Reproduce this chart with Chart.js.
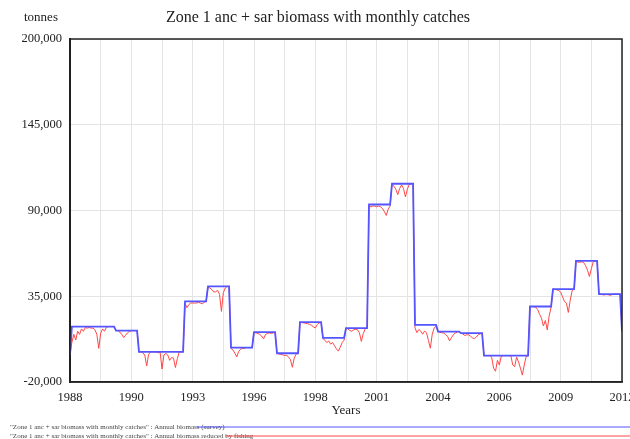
<!DOCTYPE html>
<html>
<head>
<meta charset="utf-8">
<script src="https://cdn.jsdelivr.net/npm/chart.js@4/dist/chart.umd.min.js"></script>
<style>
  html, body { margin: 0; padding: 0; overflow: hidden; background: #fff; }
  #wrap { width: 630px; height: 439px; overflow: hidden; }
</style>
</head>
<body>
<div id="wrap"><canvas id="biomassChart" width="645" height="439"></canvas></div>
<script>
const startYear = 1988;
const endYear = 2012;
const xTickLabels = ['1988', '1990', '1993', '1996', '1998', '2001', '2004', '2006', '2009', '2012'];
const yTicks = [-20000, 35000, 90000, 145000, 200000];

// annual survey biomass (tonnes), one value per year 1988..2011
const annualBiomass = [
  15560, 15560, 13000, -700, -700, 31650, 41300, 2050, 11960, -1560, 18400, 8300,
  14530, 93850, 107170, 16660, 12350, 11300, -3090, -3090, 28430, 39620, 57630, 36400
];
const firstMonthBiomass = -2600;
const finalBiomass = 12500;

// monthly catches (thousand tonnes), Jan..Dec for each year 1988..2011
const monthlyCatch = [
  [0, 10, 5, 8.6, 3, 5, 1.5, 3, 0.6, 1, 0.6, 1],
  [1, 2, 5, 14, 4.3, 1.5, 3, 0.5, 0, 0, 0, 0],
  [0, 0, 1, 2.5, 4.5, 3, 1.5, 0.5, 0, 0, 0, 0],
  [0, 0, 0.6, 2, 9, 1.7, 0, 0, 0, 0, 0.6, 0],
  [11, 2, 1, 2, 5.4, 3.6, 4, 10, 4.3, 0, 0, 0],
  [1, 4, 2, 1, 1, 1, 1, 0.5, 1, 1.5, 0.5, 0],
  [0.5, 1, 2, 3.5, 3.5, 2.5, 5, 16, 4, 1, 0, 0],
  [0.5, 1.5, 3.5, 6, 2.5, 1, 0.5, 0.5, 0, 0, 0, 0],
  [0, 0.5, 0.8, 1.5, 2.5, 4.3, 1.5, 0.8, 0.5, 0.8, 0.5, 0],
  [0, 0.5, 0.8, 1, 1.5, 1.2, 2.5, 4, 9, 3, 0.5, 0],
  [0, 0.3, 0.5, 0.8, 1, 1.5, 2, 3, 3.8, 1.5, 0.5, 0],
  [0.5, 1.5, 3, 2, 4, 3, 5, 7, 8.5, 6, 3, 1.5],
  [0, 0.5, 1.5, 2, 1, 0.8, 1, 3, 8.5, 3.5, 0.5, 0],
  [1, 1.5, 1, 1, 1.5, 1, 1.5, 2.5, 4.5, 7, 3, 1],
  [0.5, 1.5, 3.5, 7, 3, 0.8, 3, 8.5, 3.5, 0.5, 0, 0],
  [2, 5, 3, 4, 6, 4, 5, 10, 15, 6, 2, 1],
  [0, 0.5, 0.8, 1, 2, 3, 6, 4, 2, 1, 0.3, 0],
  [0, 0.5, 1.5, 1, 1, 2, 3, 3.5, 2.5, 1, 0.5, 0],
  [0, 0, 0, 0, 1, 8, 10, 3, 6, 0.5, 0, 0],
  [0, 0, 0, 6, 7, 1, 4, 8, 12.5, 6, 0.5, 0],
  [0, 0, 0, 0.5, 2, 5, 7.5, 12.5, 9, 15, 6, 0.5],
  [0, 0.3, 0.5, 1, 2, 5, 8, 9, 15, 7, 1, 0],
  [0, 0.8, 0.8, 0.5, 1, 3, 6, 10, 5, 0.5, 0, 0],
  [0, 0, 0.5, 0.5, 0.3, 0.5, 0.8, 0.3, 0, 0, 0, 0]
];

const seriesNames = [
  '"Zone 1 anc + sar biomass with monthly catches" : Annual biomass (survey)',
  '"Zone 1 anc + sar biomass with monthly catches" : Annual biomass reduced by fishing'
];
const seriesColors = ['rgb(85, 85, 255)', 'rgb(255, 70, 70)'];

const serif = '"Liberation Serif", "Times New Roman", serif';

// build monthly points
const months = (endYear - startYear) * 12;
const surveyPoints = [];
const fishedPoints = [];
for (let i = 0; i <= months; i++) {
  const t = startYear + i / 12;
  let b, c = 0;
  if (i === 0) {
    b = firstMonthBiomass;
  } else if (i === months) {
    b = finalBiomass;
  } else {
    const yr = Math.floor(i / 12);
    b = annualBiomass[yr];
    c = monthlyCatch[yr][i % 12] * 1000;
  }
  surveyPoints.push({ x: t, y: b });
  fishedPoints.push({ x: t, y: b - c });
}

const frame = {
  id: 'frame',
  afterDatasetsDraw(chart) {
    const { ctx, chartArea: a } = chart;
    ctx.save();
    ctx.strokeStyle = '#222';
    ctx.lineWidth = 1.5;
    ctx.strokeRect(a.left, a.top, a.right - a.left, a.bottom - a.top);
    ctx.restore();
  }
};

const headings = {
  id: 'headings',
  afterDraw(chart) {
    const ctx = chart.ctx;
    ctx.save();
    ctx.fillStyle = '#222';
    ctx.textBaseline = 'alphabetic';
    ctx.font = '13px ' + serif;
    ctx.textAlign = 'left';
    ctx.fillText('tonnes', 24, 21);
    ctx.font = '16px ' + serif;
    ctx.textAlign = 'center';
    ctx.fillText('Zone 1 anc + sar biomass with monthly catches', 318, 22);

    // legend rows at the bottom
    ctx.font = '7px ' + serif;
    ctx.textAlign = 'left';
    const rowsY = [427, 436];
    seriesNames.forEach((name, k) => {
      ctx.fillStyle = '#444';
      ctx.fillText(name, 10, rowsY[k] + 2);
      const w = ctx.measureText(name).width;
      ctx.strokeStyle = seriesColors[k];
      ctx.lineWidth = 1.2;
      ctx.beginPath();
      ctx.moveTo(10 + w - 28, rowsY[k]);
      ctx.lineTo(630, rowsY[k]);
      ctx.stroke();
    });
    ctx.restore();
  }
};

new Chart(document.getElementById('biomassChart'), {
  type: 'line',
  data: {
    datasets: [
      {
        label: seriesNames[0],
        data: surveyPoints,
        borderColor: seriesColors[0],
        borderWidth: 1.8,
        pointRadius: 0,
        tension: 0
      },
      {
        label: seriesNames[1],
        data: fishedPoints,
        borderColor: seriesColors[1],
        borderWidth: 1,
        pointRadius: 0,
        tension: 0
      }
    ]
  },
  options: {
    responsive: false,
    animation: false,
    layout: { padding: { left: 0, right: 23, top: 39, bottom: 20 } },
    plugins: {
      legend: { display: false },
      tooltip: { enabled: false },
      title: { display: false }
    },
    scales: {
      x: {
        type: 'linear',
        min: startYear,
        max: endYear,
        afterBuildTicks: s => {
          s.ticks = Array.from({ length: 19 }, (_, k) => ({ value: startYear + k * (endYear - startYear) / 18 }));
        },
        afterFit: s => { s.height = 37; },
        ticks: {
          autoSkip: false,
          maxRotation: 0,
          padding: 8,
          color: '#222',
          font: { family: serif, size: 12.5 },
          callback: (v, idx) => (idx % 2 === 0 ? xTickLabels[idx / 2] : '')
        },
        grid: { color: '#e4e4e4', lineWidth: 1, drawTicks: false },
        border: { display: true, color: '#222', width: 1.5 },
        title: {
          display: true,
          text: 'Years',
          color: '#222',
          font: { family: serif, size: 13 },
          padding: { top: 0, bottom: 1 }
        }
      },
      y: {
        min: yTicks[0],
        max: yTicks[yTicks.length - 1],
        afterBuildTicks: s => { s.ticks = yTicks.map(v => ({ value: v })); },
        afterFit: s => { s.width = 70; },
        ticks: {
          padding: 8,
          color: '#222',
          font: { family: serif, size: 12.5 },
          callback: v => v.toLocaleString('en-US')
        },
        grid: { color: '#e4e4e4', lineWidth: 1, drawTicks: false },
        border: { display: true, color: '#222', width: 2 }
      }
    }
  },
  plugins: [frame, headings]
});
</script>
</body>
</html>
